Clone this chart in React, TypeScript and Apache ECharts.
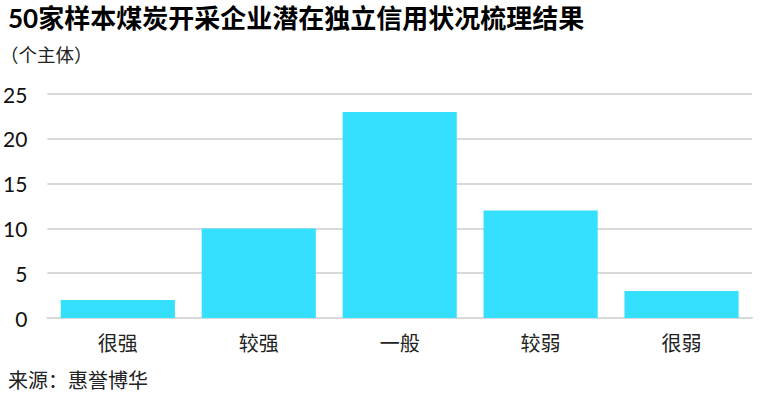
import React, { useEffect, useRef } from 'react';
import * as echarts from 'echarts';

const categories = ['很强', '较强', '一般', '较弱', '很弱'];
const counts = [2, 10, 23, 12, 3];
const yTicks = { min: 0, max: 25, interval: 5 };

const FONT = "Lato, 'Noto Sans CJK SC', sans-serif";

const App: React.FC = () => {
  const chartRef = useRef<HTMLDivElement | null>(null);

  useEffect(() => {
    let chart: echarts.ECharts | null = null;
    if (chartRef.current) {
      chart = echarts.init(chartRef.current, undefined, { renderer: 'svg' });
      chart.setOption({
        animation: false,
        textStyle: { fontFamily: FONT },
        graphic: [
          {
            type: 'text',
            left: 8,
            top: 5,
            style: {
              text: '50家样本煤炭开采企业潜在独立信用状况梳理结果',
              font: `bold 26px ${FONT}`,
              fill: '#000',
            },
          },
          {
            type: 'text',
            left: 0,
            top: 46,
            style: { text: '（个主体）', font: `18.5px ${FONT}`, fill: '#222' },
          },
          {
            type: 'text',
            left: 8,
            top: 370,
            style: { text: '来源：惠誉博华', font: `20px ${FONT}`, fill: '#222' },
          },
        ],
        grid: { left: 45, right: 16, top: 94, bottom: 82 },
        xAxis: {
          type: 'category',
          data: categories,
          axisLine: { show: true, lineStyle: { color: '#d9d9d9', width: 2 } },
          axisTick: { show: false },
          axisLabel: { fontSize: 20, color: '#222', margin: 15 },
        },
        yAxis: {
          type: 'value',
          min: yTicks.min,
          max: yTicks.max,
          interval: yTicks.interval,
          axisLine: { show: false },
          axisTick: { show: false },
          splitLine: { lineStyle: { color: '#d9d9d9', width: 2 } },
          axisLabel: { fontSize: 21, color: '#111', margin: 20 },
        },
        series: [
          {
            type: 'bar',
            data: counts,
            barCategoryGap: '19%',
            itemStyle: { color: '#35e0ff' },
          },
        ],
      });
    }
    return () => {
      chart?.dispose();
    };
  }, []);

  return (
    <div
      ref={chartRef}
      style={{ position: 'fixed', left: 0, top: 0, width: 768, height: 400, background: '#fff' }}
    ></div>
  );
};

export default App;
